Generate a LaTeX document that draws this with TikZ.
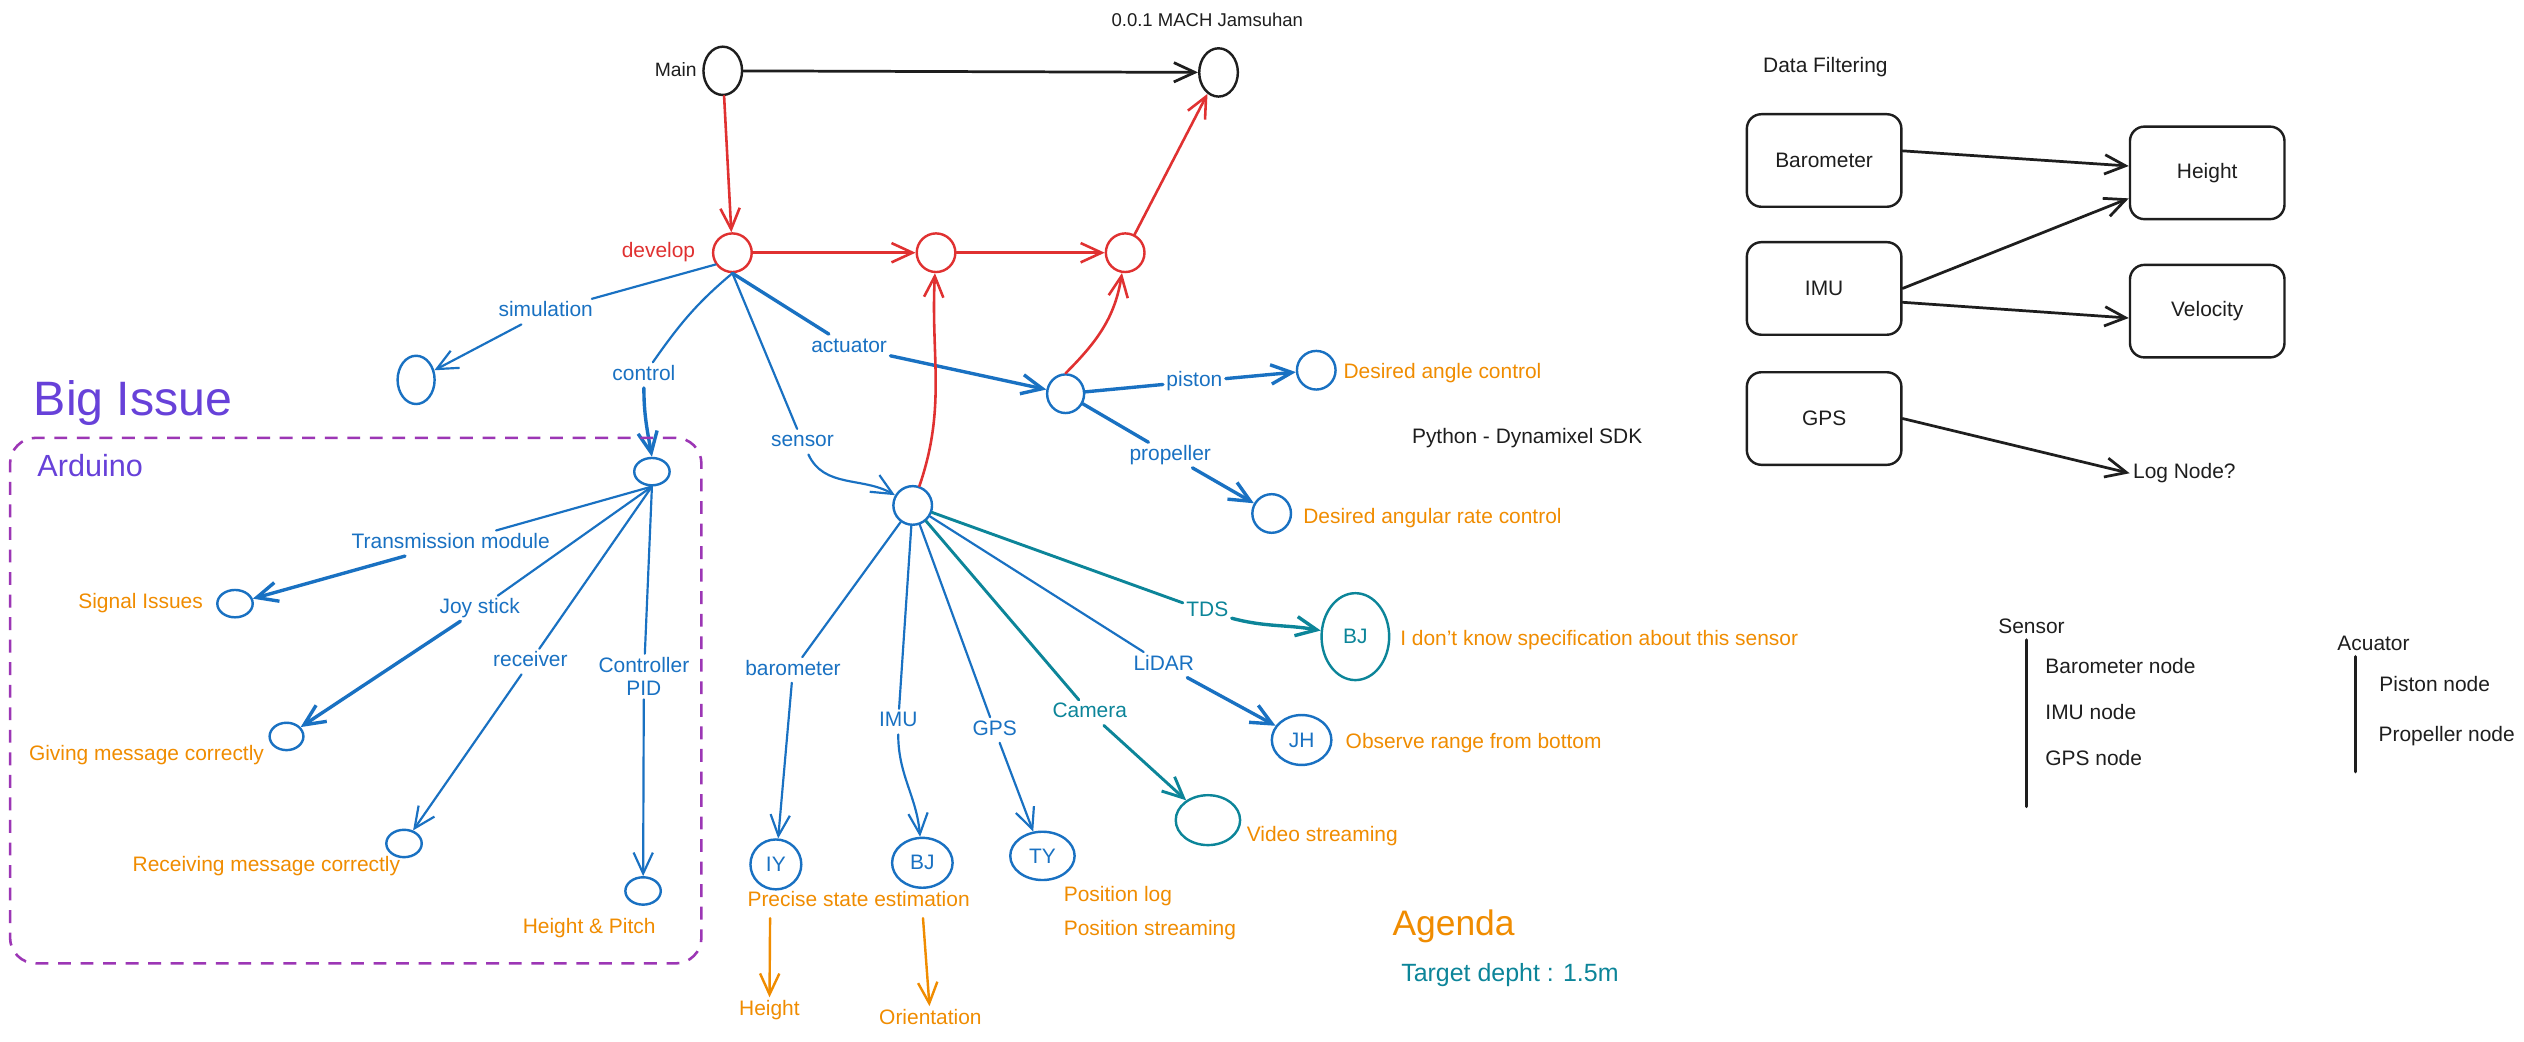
\documentclass[tikz,border=0pt]{standalone}
\usepackage{fontspec}
\setmainfont{Liberation Sans}
\usetikzlibrary{arrows.meta,shapes.geometric}

\definecolor{exred}{HTML}{E03131}
\definecolor{exblue}{HTML}{1971C2}
\definecolor{exorange}{HTML}{F08C00}
\definecolor{exteal}{HTML}{0C8599}
\definecolor{exviolet}{HTML}{6741D9}
\definecolor{exgrape}{HTML}{9C36B5}
\definecolor{exink}{HTML}{1E1E1E}

\begin{document}
\begin{tikzpicture}[x=1pt,y=1pt,
  font=\fontsize{13}{15}\selectfont,
  >={Straight Barb[length=13pt,width=12pt]},
  bub/.style={ellipse, draw=#1, line width=1.5pt, inner sep=0pt},
  txt/.style={inner sep=2pt, text height=9pt, text depth=2.5pt},
  note/.style={txt, text=exorange},
  elab/.style={txt, text=exblue},
  tlab/.style={txt, text=exteal},
  ink/.style={txt, text=exink},
  link/.style={draw=exblue, line width=1.35pt, line cap=round},
  heavy/.style={line width=2.1pt},
  rline/.style={draw=exred, line width=1.6pt, line cap=round},
  kline/.style={draw=exink, line width=1.7pt, line cap=round},
  tline/.style={draw=exteal, line width=1.8pt, line cap=round},
  oline/.style={draw=exorange, line width=1.5pt, line cap=round},
  box/.style={draw=exink, line width=1.5pt, rounded corners=9pt,
    minimum width=96pt, minimum height=57.5pt, inner sep=0pt, text=exink},
]
\useasboundingbox (0,0) rectangle (1568,-647);
\fill[white] (0,0) rectangle (1568,-647);

% ---------------- branch graph ----------------
\node[ink, font=\fontsize{11.5}{13}\selectfont] (ver) at (750,-13) {0.0.1 MACH Jamsuhan};
\node[bub=exink, minimum width=24pt, minimum height=30pt] (main) at (449,-44) {};
\node[ink, anchor=east, font=\fontsize{12}{14}\selectfont] (mainlbl) at (435,-44.5) {Main};
\node[bub=exink, minimum width=24pt, minimum height=30pt] (rel) at (757,-45) {};

\node[bub=exred, minimum width=24pt, minimum height=24pt] (dev) at (455,-157) {};
\node[txt, text=exred, anchor=east] (devlbl) at (434,-157) {develop};
\node[bub=exred, minimum width=24pt, minimum height=24pt] (m1) at (581.5,-157) {};
\node[bub=exred, minimum width=24pt, minimum height=24pt] (m2) at (699,-157) {};

\draw[kline,->] (main) -- (rel);
\draw[rline,->] (main) -- (dev);
\draw[rline,->] (dev) -- (m1);
\draw[rline,->] (m1) -- (m2);
\draw[rline,->] (m2) -- (rel);

% ---------------- develop children ----------------
\node[bub=exblue, minimum width=23pt, minimum height=30pt] (sim) at (258.5,-236) {};
\node[bub=exblue, minimum width=22pt, minimum height=17pt] (ctl) at (405,-293) {};
\node[bub=exblue, minimum width=23pt, minimum height=24pt] (act) at (662,-244.6) {};
\node[bub=exblue, minimum width=24pt, minimum height=24pt] (sen) at (567,-314) {};

\node[elab] (simlbl) at (339,-193.6) {simulation};
\node[elab] (ctllbl) at (400,-233) {control};
\node[elab] (actlbl) at (527.5,-215.5) {actuator};
\node[elab] (senlbl) at (498.5,-274.4) {sensor};

\draw[link] (dev.215) -- (simlbl);
\draw[link,->] (simlbl) -- (sim);
\draw[link] (dev.south) to[out=-140,in=55] (ctllbl);
\draw[link,heavy,->] (ctllbl) to[out=-90,in=100] (ctl.north);
\draw[link,heavy] (dev.south) -- (actlbl);
\draw[link,heavy,->] (actlbl) -- (act);
\draw[link] (dev.south) -- (senlbl);
\draw[link,->] (senlbl) to[out=-65,in=150] (sen);

\draw[rline,->] (sen) to[out=71,in=-93] (m1);
\draw[rline,->] (act.north) to[out=45,in=-99] (m2);

% ---------------- actuator ----------------
\node[bub=exblue, minimum width=24pt, minimum height=24pt] (pis) at (817.7,-230) {};
\node[bub=exblue, minimum width=24pt, minimum height=24pt] (pro) at (790,-319) {};
\node[elab] (pislbl) at (742,-237) {piston};
\node[elab] (prolbl) at (727,-282.7) {propeller};
\draw[link,heavy] (act) -- (pislbl);
\draw[link,heavy,->] (pislbl) -- (pis);
\draw[link,heavy] (act) -- (prolbl);
\draw[link,heavy,->] (prolbl) -- (pro);
\node[note, anchor=west] (pisnote) at (832.5,-232) {Desired angle control};
\node[note, anchor=west] (pronote) at (807.5,-321.8) {Desired angular rate control};
\node[ink, anchor=west] (sdk) at (875,-272.2) {Python - Dynamixel SDK};

% ---------------- sensor ----------------
\node[bub=exblue, minimum width=31.6pt, minimum height=31pt, text=exblue] (iy) at (482,-537) {IY};
\node[bub=exblue, minimum width=37.6pt, minimum height=31pt, text=exblue] (bj) at (573,-536) {BJ};
\node[bub=exblue, minimum width=40pt, minimum height=30pt, text=exblue] (ty) at (647.6,-531.7) {TY};
\node[bub=exteal, minimum width=40pt, minimum height=31pt] (vid) at (750.4,-509.5) {};
\node[bub=exblue, minimum width=37pt, minimum height=31pt, text=exblue] (jh) at (808.6,-459.7) {JH};
\node[bub=exteal, minimum width=42pt, minimum height=54pt, text=exteal] (tds) at (842,-395.5) {BJ};

\node[elab] (barlbl) at (492.6,-416.2) {barometer};
\node[elab] (imulbl) at (558,-448.3) {IMU};
\node[elab] (gpslbl) at (618,-453.5) {GPS};
\node[tlab] (camlbl) at (677,-442.7) {Camera};
\node[elab] (lidlbl) at (723,-413) {LiDAR};
\node[tlab] (tdslbl) at (750,-380) {TDS};

\draw[link] (sen) -- (barlbl);
\draw[link,->] (barlbl) -- (iy);
\draw[link] (sen) -- (imulbl);
\draw[link,->] (imulbl) to[out=-90,in=95] (bj);
\draw[link] (sen) -- (gpslbl);
\draw[link,->] (gpslbl) -- (ty);
\draw[tline] (sen) -- (camlbl);
\draw[tline,->] (camlbl) -- (vid);
\draw[link] (sen) -- (lidlbl);
\draw[link,heavy,->] (lidlbl) -- (jh);
\draw[tline] (sen) -- (tdslbl);
\draw[tline,heavy,->] (tdslbl) to[out=-15,in=170] (tds);

\node[note, anchor=west] (tdsnote) at (867.7,-397.6) {I don't know specification about this sensor};
\node[note, anchor=west] (jhnote) at (833.8,-461.8) {Observe range from bottom};
\node[note, anchor=west] (vidnote) at (772.4,-519.8) {Video streaming};
\node[note] (pse) at (533.4,-560) {Precise state estimation};
\node[note, anchor=west] (poslog) at (658.7,-556.6) {Position log};
\node[note, anchor=west] (posstr) at (658.7,-578) {Position streaming};
\node[note] (hgtout) at (478,-627.5) {Height};
\node[note] (ori) at (578,-633) {Orientation};
\coordinate (pseA) at (478.4,-570.4);
\coordinate (pseB) at (573.4,-570.4);
\draw[oline,->] (pseA) -- (hgtout);
\draw[oline,->] (pseB) -- (ori);

\node[text=exorange, font=\fontsize{22}{26}\selectfont, anchor=base, inner sep=0pt] (agenda) at (903,-581) {Agenda};
\node[text=exteal, font=\fontsize{15.5}{18}\selectfont, anchor=base, inner sep=0pt] (target) at (938,-610) {Target depht : 1.5m};

% ---------------- Arduino group ----------------
\node[text=exviolet, font=\fontsize{30}{34}\selectfont, anchor=base, inner sep=0pt] (big) at (82.7,-258) {Big Issue};
\node[draw=exgrape, dashed, dash pattern=on 8pt off 6pt, line width=1.6pt, rounded corners=16pt,
  minimum width=429.5pt, minimum height=326.5pt, inner sep=0pt] (ard) at (221,-435.25) {};
\node[text=exviolet, font=\fontsize{19}{22}\selectfont, anchor=base, inner sep=0pt] (ardlbl) at (56,-296) {Arduino};

\node[bub=exblue, minimum width=22pt, minimum height=17pt] (si) at (146,-375) {};
\node[bub=exblue, minimum width=21pt, minimum height=17pt] (gm) at (178,-457.5) {};
\node[bub=exblue, minimum width=22pt, minimum height=17pt] (rm) at (251,-524) {};
\node[bub=exblue, minimum width=22pt, minimum height=17pt] (hp) at (399.5,-553.5) {};

\node[elab] (tmlbl) at (280,-337.5) {Transmission module};
\node[elab] (jslbl) at (298,-378) {Joy stick};
\node[elab] (rcvlbl) at (329.5,-411) {receiver};
\node[text=exblue, align=center, inner sep=2pt, font=\fontsize{13}{14.5}\selectfont] (pidlbl) at (400,-420.3) {Controller\\PID};

\draw[link] (ctl.south) -- (tmlbl);
\draw[link,heavy,->] (tmlbl) -- (si);
\draw[link] (ctl.south) -- (jslbl);
\draw[link,heavy,->] (jslbl) -- (gm);
\draw[link] (ctl.south) -- (rcvlbl);
\draw[link,->] (rcvlbl) -- (rm);
\draw[link] (ctl.south) -- (pidlbl);
\draw[link,->] (pidlbl) -- (hp);

\node[note, anchor=west] (sinote) at (46.5,-374.8) {Signal Issues};
\node[note] (gmnote) at (91,-469) {Giving message correctly};
\node[note] (rmnote) at (165.5,-538.4) {Receiving message correctly};
\node[note] (hpnote) at (366,-576.7) {Height \& Pitch};

% ---------------- data filtering ----------------
\node[ink] (dflbl) at (1134,-41.8) {Data Filtering};
\node[box] (fbar) at (1133.2,-99.7) {Barometer};
\node[box] (fimu) at (1133.2,-179.2) {IMU};
\node[box] (fgps) at (1133.2,-260) {GPS};
\node[box] (fhgt) at (1371.2,-107.4) {Height};
\node[box] (fvel) at (1371.2,-193.3) {Velocity};
\node[ink] (flog) at (1357,-294) {Log Node?};

\draw[kline,->] (fbar.7) -- (fhgt.175);
\draw[kline,->] (fimu.east) -- (fhgt.198);
\draw[kline,->] (fimu.-10) -- (fvel.185);
\draw[kline,->] (fgps.east) -- (flog.west);

% ---------------- node lists ----------------
\node[ink] (senhead) at (1262,-390.3) {Sensor};
\coordinate (senTop) at (1259,-397.6);
\coordinate (senBot) at (1259,-501);
\draw[kline, line width=2.2pt] (senTop) -- (senBot);
\node[ink, anchor=west] (lbar) at (1268.5,-415.2) {Barometer node};
\node[ink, anchor=west] (limu) at (1268.5,-443.8) {IMU node};
\node[ink, anchor=west] (lgps) at (1268.5,-472) {GPS node};

\node[ink] (acthead) at (1474.5,-400.7) {Acuator};
\coordinate (actTop) at (1463.4,-408);
\coordinate (actBot) at (1463.4,-479.4);
\draw[kline, line width=2.2pt] (actTop) -- (actBot);
\node[ink, anchor=west] (lpis) at (1476,-426.2) {Piston node};
\node[ink, anchor=west] (lpro) at (1475.5,-457.6) {Propeller node};

\end{tikzpicture}
\end{document}
